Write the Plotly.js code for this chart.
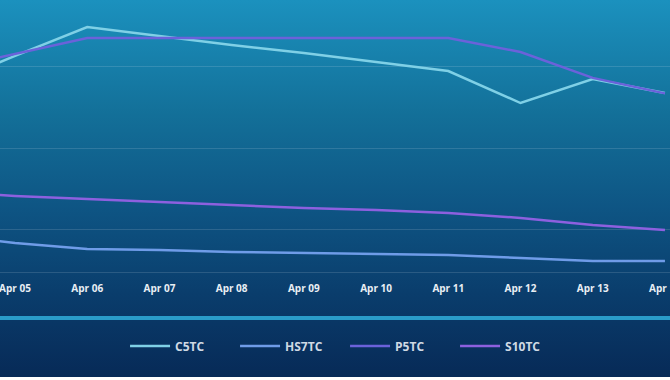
<!DOCTYPE html>
<html>
<head>
<meta charset="utf-8">
<script src="https://cdn.plot.ly/plotly-3.0.1.min.js"></script>
<style>
  html, body { margin: 0; padding: 0; background: #ffffff; }
  #wrap { width: 670px; height: 377px; overflow: hidden;
    background: linear-gradient(to bottom, #1b91be 0%, #137099 30%, #0e5584 55%, #0a3d6c 78%, #072a57 100%); }
  #chart { width: 670px; height: 380px; }
</style>
</head>
<body>
<div id="wrap"><div id="chart"></div></div>
<script>
const dates = ["Apr 04", "Apr 05", "Apr 06", "Apr 07", "Apr 08", "Apr 09", "Apr 10", "Apr 11", "Apr 12", "Apr 13", "Apr 14"];
const c5tc  = [18830, 20680, 22450, 21900, 21350, 20860, 20310, 19750, 17790, 19260, 18400];
const hs7tc = [9750, 9200, 8830, 8770, 8650, 8590, 8530, 8470, 8280, 8100, 8100];
const p5tc  = [19820, 20800, 21780, 21780, 21780, 21780, 21780, 21780, 20920, 19330, 18380];
const s10tc = [12330, 12090, 11900, 11720, 11530, 11350, 11230, 11040, 10740, 10310, 10000];
const yTicks = [10000, 15000, 20000];

const mk = (name, y, color) => ({
  type: 'scatter', mode: 'lines', name: name, x: dates, y: y,
  line: { color: color, width: 2.5 }, hoverinfo: 'skip'
});

const data = [
  mk('C5TC', c5tc, '#7fd0e6'),
  mk('HS7TC', hs7tc, '#6f9ce8'),
  mk('P5TC', p5tc, '#6b62da'),
  mk('S10TC', s10tc, '#8d60df')
];

const layout = {
  width: 670, height: 380,
  margin: { l: 0, r: 0, t: 0, b: 108 },
  paper_bgcolor: 'rgba(0,0,0,0)',
  plot_bgcolor: 'rgba(0,0,0,0)',
  font: { family: '"Open Sans", sans-serif', color: '#e8eef4' },
  showlegend: true,
  xaxis: {
    type: 'category', range: [0.792, 10.07],
    showgrid: false, zeroline: false,
    showline: true, linecolor: 'rgba(255,255,255,0.13)', linewidth: 1,
    ticks: '', tickfont: { size: 10, weight: 'bold', color: '#e8eef4' },
    ticklabelstandoff: 7
  },
  yaxis: {
    range: [7423, 24110], tickvals: yTicks, showticklabels: false,
    showgrid: true, gridcolor: 'rgba(255,255,255,0.13)', gridwidth: 1,
    zeroline: false, showline: false, ticks: ''
  },
  legend: {
    orientation: 'h', x: 0.515, xanchor: 'center', y: -0.272, yanchor: 'middle',
    font: { size: 12, weight: 'bold', color: '#cfd9e4' },
    bgcolor: 'rgba(0,0,0,0)', itemwidth: 40, traceorder: 'normal',
    entrywidth: 55, entrywidthmode: 'pixels'
  },
  shapes: [{
    type: 'line', xref: 'paper', yref: 'paper', x0: 0, x1: 1, y0: -0.169, y1: -0.169,
    line: { color: '#2a9cc9', width: 4 }
  }]
};

Plotly.newPlot('chart', data, layout, { displayModeBar: false, staticPlot: true });
</script>
</body>
</html>
